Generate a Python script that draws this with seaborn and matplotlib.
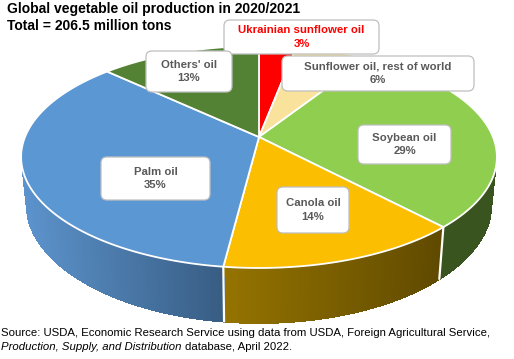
import numpy as np
import seaborn as sns
import matplotlib.pyplot as plt
from matplotlib.patches import Polygon, FancyBboxPatch

categories = ['Ukrainian sunflower oil', 'Sunflower oil, rest of world', 'Soybean oil',
              'Canola oil', 'Palm oil', "Others' oil"]
shares = [3, 6, 29, 14, 35, 13]
slice_colors = ['#FF0000', '#F9E29B', '#8FCE4F', '#FBBE00', '#5B97D3', '#548235']
# wall gradient, left to right
wall_colors = [('#A00000', '#A00000'), ('#9C8C60', '#9C8C60'), ('#3A5420', '#3A5420'),
               ('#947300', '#5F4900'), ('#5C93CC', '#375C82'), ('#34491C', '#34491C')]
title_lines = ['Global vegetable oil production in 2020/2021', 'Total = 206.5 million tons']
source_line = 'Source: USDA, Economic Research Service using data from USDA, Foreign Agricultural Service,'
source_italic = 'Production, Supply, and Distribution'
source_rest = 'database, April 2022.'

# label boxes in pixels: left, top, right, bottom
boxes = [(224, 20, 379, 54), (282, 56, 474, 91), (358, 125, 451, 164),
         (277, 187, 349, 233), (101, 157, 210, 200), (146, 51, 232, 92)]

# perspective pie: apex of the slices sits above the centre of the ellipse
cx, cy = 259, 137
A, B, k = 234, 107.4, 0.18
depth = 45
bottom_scale = 0.978


def project(frac):
    ang = 2 * np.pi * np.asarray(frac)
    u, v = np.sin(ang), -np.cos(ang)
    w = 1 - k * v
    return cx + A * u / w, cy + B * v / w, depth / w, v


sns.set_theme(style='white')
plt.rcParams['font.family'] = ['Liberation Sans', 'DejaVu Sans']

fig = plt.figure(figsize=(5.14, 3.59), dpi=100)
ax = fig.add_axes([0, 0, 1, 1])
ax.set_xlim(0, 514)
ax.set_ylim(359, 0)
ax.axis('off')

edges = np.cumsum([0] + shares) / sum(shares)

# outer walls first, thin quads without antialiasing so no stripes show
for i in range(len(shares)):
    fr = np.linspace(edges[i], edges[i + 1], 1 + shares[i] * 8)
    x, y, d, v = project(fr)
    xb = cx + (x - cx) * bottom_scale
    ramp = sns.blend_palette(wall_colors[i], n_colors=64)
    for j in range(len(fr) - 1):
        # the back of the wall is hidden behind the top face
        if v[j] < 0.3 and v[j + 1] < 0.3:
            continue
        t = (0.5 * (x[j] + x[j + 1]) - x.min()) / max(x.max() - x.min(), 1)
        pts = [(x[j], y[j]), (x[j + 1], y[j + 1]),
               (xb[j + 1], y[j + 1] + d[j + 1]), (xb[j], y[j] + d[j])]
        ax.add_patch(Polygon(pts, closed=True, fc=ramp[int(t * 63)], ec=ramp[int(t * 63)], lw=0.8,
                             antialiased=False, zorder=2))

# white seams between the walls
for e in edges[:-1]:
    x, y, d, v = project(e)
    if v > 0.3:
        ax.plot([x, cx + (x - cx) * bottom_scale], [y, y + d], color='white', lw=1.6, zorder=3)

# top faces
for i in range(len(shares)):
    fr = np.linspace(edges[i], edges[i + 1], 1 + shares[i] * 4)
    x, y, d, v = project(fr)
    pts = [(cx, cy)] + list(zip(x, y))
    ax.add_patch(Polygon(pts, closed=True, fc=slice_colors[i], ec='white', lw=1.3, joinstyle='round', zorder=4))

# data labels
for i, (l, t, r, b) in enumerate(boxes):
    ax.add_patch(FancyBboxPatch((l + 5, t + 5), r - l - 10, b - t - 10,
                                boxstyle='round,pad=5,rounding_size=6', fc='white', ec='#BFBFBF',
                                lw=0.9, zorder=5))
    col = '#FF0000' if i == 0 else '#595959'
    ax.text((l + r) / 2, (t + b) / 2, f'{categories[i]}\n{shares[i]}%', ha='center', va='center',
            fontsize=8.2, fontweight='bold', color=col, linespacing=1.4, zorder=6)

ax.text(7, 9.5, title_lines[0], fontsize=10, fontweight='bold', color='black', va='center')
ax.text(7, 25.5, title_lines[1], fontsize=10, fontweight='bold', color='black', va='center')

ax.text(1, 333, source_line, fontsize=8.2, color='black', va='center')
ax.text(1, 347, source_italic, fontsize=8.2, style='italic', color='black', va='center')
ax.text(185, 347, source_rest, fontsize=8.2, color='black', va='center')

fig.savefig('out.png', dpi=100)
